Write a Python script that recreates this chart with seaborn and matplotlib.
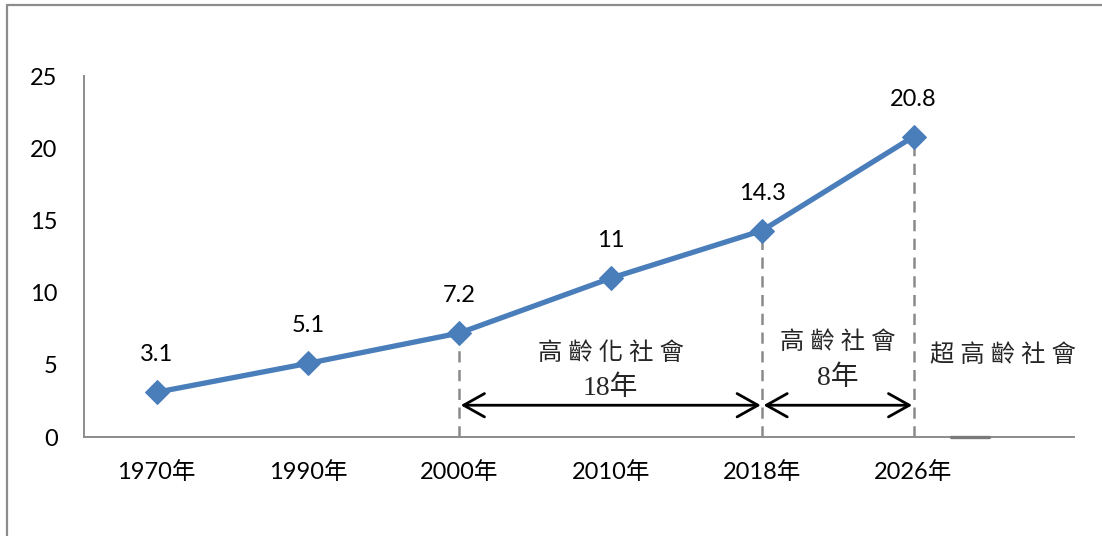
import matplotlib
matplotlib.use("Agg")
import matplotlib.pyplot as plt
from matplotlib.lines import Line2D
import seaborn as sns
import numpy as np

# Share of population aged 65+ (%)
years = ["1970年", "1990年", "2000年", "2010年", "2018年", "2026年"]
ratios = [3.1, 5.1, 7.2, 11, 14.3, 20.8]
y_ticks = [0, 5, 10, 15, 20, 25]

# Stage boundaries (index into years) and stage captions
aged_span = (2, 4)
aged_label = ["高 齡 化 社 會", "18年"]
aged_soc_span = (4, 5)
aged_soc_label = ["高 齡 社 會", "8年"]
super_aged_label = "超 高 齡 社 會"

sns.set_style("white")
plt.rcParams["font.family"] = ["Lato", "Noto Sans CJK TC", "DejaVu Sans"]

LINE_BLUE = "#4a7ebb"
AXIS_GRAY = "#8c8c8c"
CJK_SERIF = ["Liberation Serif", "Noto Sans CJK TC"]

fig = plt.figure(figsize=(11.02, 5.36), dpi=100)
ax = fig.add_axes([84 / 1102, 99 / 536, 990 / 1102, 361 / 536])

idx = np.arange(len(years))
sns.lineplot(x=idx, y=ratios, ax=ax, color=LINE_BLUE, linewidth=3.8,
             marker="D", markersize=12.5, markeredgecolor=LINE_BLUE,
             markerfacecolor=LINE_BLUE)

for i, v in zip(idx, ratios):
    ax.annotate(f"{v:g}", (i, v), xytext=(0, 27), textcoords="offset points",
                ha="center", va="center", fontsize=17, color="black")

# Dashed drop lines at the stage boundaries
for i in sorted(set(aged_span + aged_soc_span)):
    ax.plot([i, i], [0, ratios[i]], color="#8a8a8a", lw=1.8,
            dashes=(4.5, 3), zorder=1)

# Double-headed arrows marking each stage's duration
arrow_y = 2.2
arrow_props = dict(arrowstyle="<->,head_length=0.75,head_width=0.42",
                   color="black", lw=2.0, shrinkA=1, shrinkB=1,
                   mutation_scale=20)
for a, b in (aged_span, aged_soc_span):
    ax.annotate("", xy=(b, arrow_y), xytext=(a, arrow_y),
                arrowprops=arrow_props)

cap_size = 17.5
dur_size = 20
mid1 = sum(aged_span) / 2
ax.text(mid1, 5.75, aged_label[0], ha="center", va="center",
        fontsize=cap_size, family=CJK_SERIF)
ax.text(mid1, 3.4, aged_label[1], ha="center", va="center",
        fontsize=dur_size, family=CJK_SERIF)
mid2 = sum(aged_soc_span) / 2
ax.text(mid2, 6.55, aged_soc_label[0], ha="center", va="center",
        fontsize=cap_size, family=CJK_SERIF)
ax.text(mid2, 4.05, aged_soc_label[1], ha="center", va="center",
        fontsize=dur_size, family=CJK_SERIF)
ax.text(5.59, 5.6, super_aged_label, ha="center", va="center",
        fontsize=cap_size, family=CJK_SERIF)

ax.set_xlim(-0.48, 6.06)
ax.set_ylim(0, 25)
ax.set_xticks(idx)
ax.set_xticklabels(years)
ax.set_yticks(y_ticks)
ax.tick_params(axis="both", length=0, labelsize=17, colors="black")
ax.tick_params(axis="y", pad=19)
ax.tick_params(axis="x", pad=17)
ax.set_xlabel("")
ax.set_ylabel("")

for side in ("top", "right"):
    ax.spines[side].set_visible(False)
for side in ("left", "bottom"):
    ax.spines[side].set_color(AXIS_GRAY)
    ax.spines[side].set_linewidth(1.4)

# short darker stub on the baseline
ax.axhline(0, xmin=(5.25 + 0.48) / 6.54, xmax=(5.50 + 0.48) / 6.54,
           color="#7a7a7a", lw=2.4, zorder=3, clip_on=False)

# outer chart frame (top and left edges)
fig.add_artist(Line2D([7 / 1102, 7 / 1102], [0, 1 - 5 / 536],
                      transform=fig.transFigure, color="#8c8c8c", lw=1.6))
fig.add_artist(Line2D([7 / 1102, 1], [1 - 5 / 536, 1 - 5 / 536],
                      transform=fig.transFigure, color="#8c8c8c", lw=1.6))

fig.savefig("out.png", dpi=100, facecolor="white")
